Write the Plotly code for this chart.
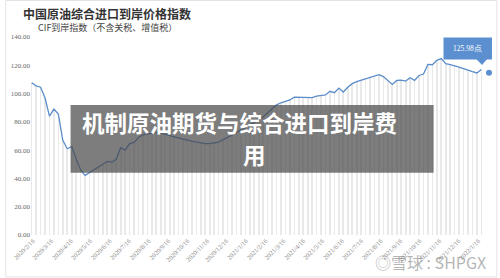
import plotly.graph_objects as go
import pandas as pd

# Weekly index values (starting 2020-02-14)
start_date = "2020-02-14"
values = [107.7, 105.5, 104.5, 97.0, 84.0, 89.0, 85.5, 67.0, 61.0, 62.5,
          54.0, 46.0, 42.2, 44.0, 46.0, 48.0, 50.0, 52.0, 51.6, 53.5,
          61.8, 60.0, 64.6, 65.5, 69.0, 70.8, 71.5, 72.0, 72.5, 72.0,
          71.5, 70.5, 69.3, 68.7, 68.1, 67.0, 66.3, 65.7, 65.0, 64.6,
          64.6, 65.2, 65.7, 67.5, 68.8, 70.5, 72.5, 74.5, 76.5, 78.0,
          79.5, 81.5, 83.5, 86.5, 89.5, 92.0, 93.5, 94.7, 95.5, 97.5,
          97.5, 97.4, 97.1, 97.2, 98.2, 98.8, 99.0, 101.6, 100.6, 103.9,
          101.1, 104.5, 107.0, 108.5, 109.5, 110.2, 111.0, 112.0, 113.4, 112.0,
          109.3, 106.5, 109.3, 109.5, 108.8, 111.2, 109.3, 112.8, 113.8, 120.6,
          120.4, 123.5, 124.7, 121.1, 120.5, 119.8, 118.7, 117.6, 116.4, 115.5,
          114.6, 117.0]
dates = pd.date_range(start_date, periods=len(values), freq="7D")

last_dot_date = ["2022-02-02"]
last_dot_value = [114.8]

tick_dates = ["2020-02-16", "2020-03-16", "2020-04-16", "2020-05-16", "2020-06-16",
              "2020-07-16", "2020-08-16", "2020-09-16", "2020-10-16", "2020-11-16",
              "2020-12-16", "2021-01-16", "2021-02-16", "2021-03-16", "2021-04-16",
              "2021-05-16", "2021-06-16", "2021-07-16", "2021-08-16", "2021-09-16",
              "2021-10-16", "2021-11-16", "2021-12-16", "2022-01-16"]
tick_text = ["2020/2/16", "2020/3/16", "2020/4/16", "2020/5/16", "2020/6/16",
             "2020/7/16", "2020/8/16", "2020/9/16", "2020/10/16", "2020/11/16",
             "2020/12/16", "2021/1/16", "2021/2/16", "2021/3/16", "2021/4/16",
             "2021/5/16", "2021/6/16", "2021/7/16", "2021/8/16", "2021/9/16",
             "2021/10/16", "2021/11/16", "2021/12/16", "2022/1/16"]
y_ticks = [0, 20, 40, 60, 80, 100, 120, 140]

title_text = "中国原油综合进口到岸价格指数"
subtitle_text = "CIF到岸指数（不含关税、增值税）"
tooltip_text = "125.98点"
overlay_line1 = "机制原油期货与综合进口到岸费"
overlay_line2 = "用"
watermark_text = "◎雪球 : SHPGX"

# pixel geometry helpers (plot area: x 26..489, y 37..235)
L, R, T, B = 26, 11, 37, 43
W, H = 500, 278
PW, PH = W - L - R, H - T - B


def px(x):
    return (x - L) / PW


def py(y):
    return (H - B - y) / PH


fig = go.Figure()
fig.add_trace(go.Bar(x=dates, y=values, width=86400000 * 1.1,
                     marker=dict(color="#e9e9e9", line=dict(width=0)),
                     hoverinfo="skip", showlegend=False))
fig.add_trace(go.Scatter(x=dates, y=values, mode="lines",
                         line=dict(color="#5b8dcb", width=1.3),
                         showlegend=False))
fig.add_trace(go.Scatter(x=last_dot_date, y=last_dot_value, mode="markers",
                         marker=dict(color="#5b8fd0", size=6),
                         showlegend=False, cliponaxis=False))

shapes = [
    # overlay box
    dict(type="rect", xref="paper", yref="paper",
         x0=px(66), x1=px(433), y0=py(172.7), y1=py(105),
         fillcolor="rgba(70,70,70,0.7)", line=dict(width=0), layer="above"),
    # tooltip box
    dict(type="rect", xref="paper", yref="paper",
         x0=px(443), x1=px(492), y0=py(59.5), y1=py(37.5),
         fillcolor="#5b8fd0", line=dict(width=0), layer="above"),
    dict(type="path", xref="paper", yref="paper",
         path=f"M {px(476)} {py(59)} L {px(482)} {py(65)} L {px(487)} {py(59)} Z",
         fillcolor="#5b8fd0", line=dict(width=0), layer="above"),
    # outer border
    dict(type="rect", xref="paper", yref="paper",
         x0=px(0.5), x1=px(497), y0=py(277), y1=py(0.5),
         fillcolor="rgba(0,0,0,0)", line=dict(color="#e3e3e3", width=1)),
]

annotations = [
    dict(text=f"<b>{title_text}</b>", x=px(103), y=py(13), xref="paper", yref="paper",
         showarrow=False, font=dict(size=12, color="#333", family="Noto Sans CJK SC"),
         xanchor="center", yanchor="middle"),
    dict(text=subtitle_text, x=px(103), y=py(27.5), xref="paper", yref="paper",
         showarrow=False, font=dict(size=9, color="#444", family="Noto Sans CJK SC"),
         xanchor="center", yanchor="middle"),
    dict(text=tooltip_text, x=px(467), y=py(48.5), xref="paper", yref="paper",
         showarrow=False, font=dict(size=7.5, color="white", family="Liberation Serif"),
         xanchor="center", yanchor="middle"),
    dict(text=f"<b>{overlay_line1}</b>", x=px(237), y=py(122),
         xref="paper", yref="paper", showarrow=False,
         font=dict(size=22.5, color="white", family="Noto Sans CJK SC"),
         xanchor="center", yanchor="middle"),
    dict(text=f"<b>{overlay_line2}</b>", x=px(252), y=py(154),
         xref="paper", yref="paper", showarrow=False,
         font=dict(size=22.5, color="white", family="Noto Sans CJK SC"),
         xanchor="center", yanchor="middle"),
    dict(text=watermark_text, x=px(430), y=py(262), xref="paper", yref="paper",
         showarrow=False, font=dict(size=16, color="rgba(130,130,130,0.6)", family="Noto Sans CJK SC"),
         xanchor="center", yanchor="middle"),
]

fig.update_layout(
    width=W, height=H,
    margin=dict(l=L, r=R, t=T, b=B),
    paper_bgcolor="white", plot_bgcolor="white",
    bargap=0,
    shapes=shapes, annotations=annotations,
    xaxis=dict(type="date", range=["2020-02-13", "2022-02-02"],
               tickvals=tick_dates, ticktext=tick_text, tickangle=-45,
               tickfont=dict(size=6.5, color="#888", family="Liberation Serif"),
               showgrid=False, zeroline=False, showline=False, ticks=""),
    yaxis=dict(range=[0, 140], tickvals=y_ticks, tickformat=".2f",
               tickfont=dict(size=7, color="#666", family="Liberation Serif"),
               showgrid=False, zeroline=False, showline=False, ticks=""),
)

fig.write_html("out.html")
